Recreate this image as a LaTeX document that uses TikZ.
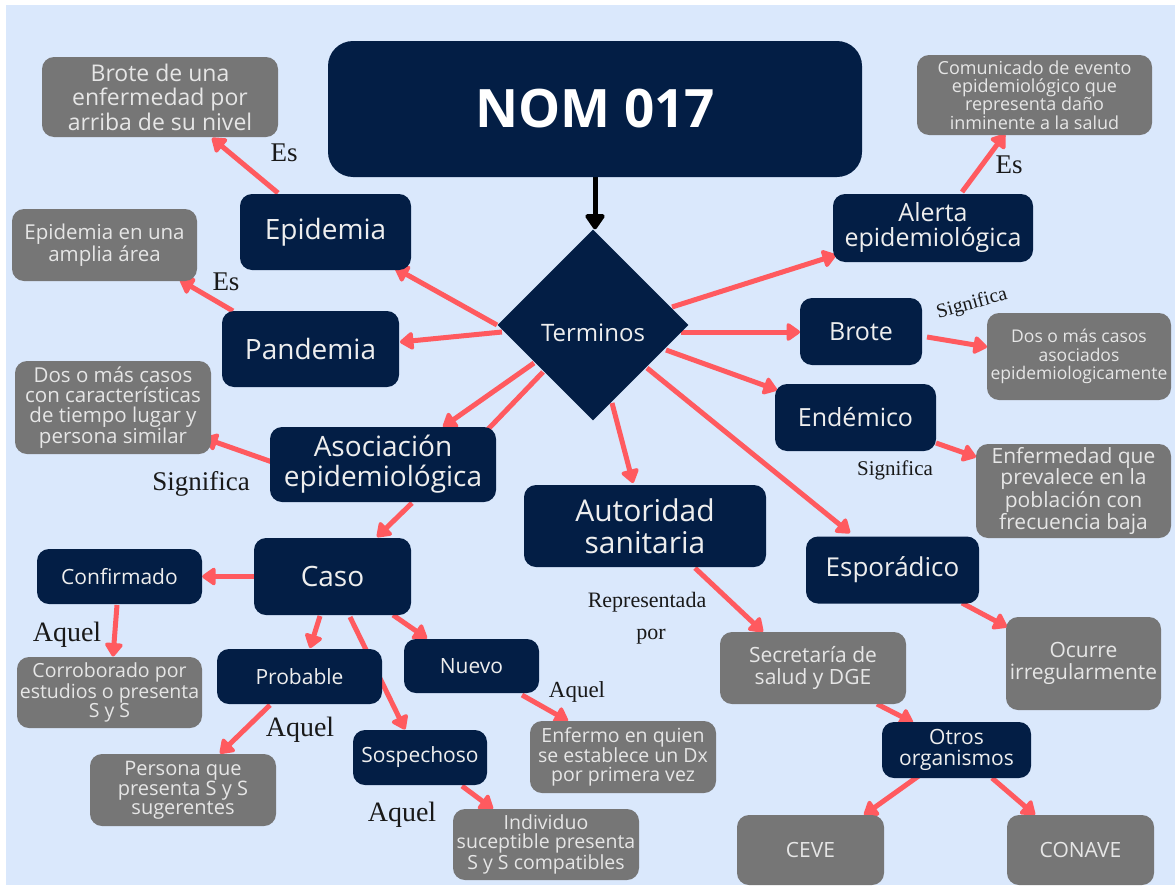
\documentclass[tikz,border=0pt]{standalone}
\usepackage{fontspec}
\newfontfamily\os{Open Sans}
\newfontfamily\lsf{Liberation Serif}
\usetikzlibrary{shapes.geometric,arrows.meta}
\definecolor{navy}{HTML}{031E45}
\definecolor{boxgray}{HTML}{767676}
\definecolor{bgblue}{HTML}{DAE8FC}
\definecolor{arr}{HTML}{FF5A5F}
\definecolor{wtext}{HTML}{EEEEEE}
\definecolor{gtext}{HTML}{E6E6E6}
\newcommand\osz[2]{\os\fontsize{#1}{#2}\selectfont}
\newcommand\lbz[1]{\lsf\fontsize{#1}{#1}\selectfont}
\pgfdeclarelayer{back}\pgfdeclarelayer{edges}\pgfsetlayers{back,edges,main}
\tikzset{
 nbox/.style={fill=navy, rounded corners=12pt, text=wtext, align=center, inner sep=0pt},
 gbox/.style={fill=boxgray, rounded corners=12pt, text=gtext, align=center, inner sep=0pt},
 sz/.style 2 args={minimum width=#1pt, minimum height=#2pt},
 arrowline/.style={draw=arr, line width=5pt, -{Triangle[length=15pt,width=20pt,round]}},
 plainline/.style={draw=arr, line width=5pt},
 lab/.style={text=black!90, inner sep=0pt},
}
\begin{document}
\begin{tikzpicture}[x=1pt,y=-1pt]
\useasboundingbox (0,0) rectangle (1175,886);
\begin{pgfonlayer}{back}
\fill[white] (0,0) rectangle (1175,886);
\fill[bgblue] (6,5) rectangle (1175,885);
\end{pgfonlayer}

% main nodes
\node[nbox,sz={534}{136},rounded corners=25pt,font=\os\bfseries\fontsize{53}{53}\selectfont,text=white] (nom) at (595,109) {NOM 017};
\node[diamond,fill=navy,minimum width=191pt,minimum height=191pt,inner sep=0pt,
  label={[text=wtext,font=\osz{24}{24},yshift=-8pt]center:Terminos}] (term) at (593,325) {};
\node[nbox,sz={171}{76},font=\osz{28}{28}] (epi) at (325.5,232) {Epidemia};
\node[gbox,sz={236}{80},font=\osz{23}{24.5}] (epidef) at (160,97) {Brote de una\\enfermedad por\\arriba de su nivel};
\node[nbox,sz={177}{76},font=\osz{28}{28}] (pand) at (310.5,349) {Pandemia};
\node[gbox,sz={185}{72},font=\osz{20.5}{20}] (pandef) at (104.5,245) {Epidemia en una\\amplia área};
\node[nbox,sz={226}{75},font=\osz{28}{30}] (asoc) at (383,464.5) {Asociación\\epidemiológica};
\node[gbox,sz={196}{93},font=\osz{20.5}{20}] (asocdef) at (113,407.5) {Dos o más casos\\con características\\de tiempo lugar y\\persona similar};
\node[nbox,sz={157}{77},font=\osz{28}{28}] (caso) at (332.5,576.5) {Caso};
\node[nbox,sz={165}{55},font=\osz{21}{21}] (conf) at (119.5,576.5) {Confirmado};
\node[gbox,sz={185}{71},font=\osz{19.5}{19}] (corr) at (109.5,692.5) {Corroborado por\\estudios o presenta\\S y S};
\node[nbox,sz={165}{55},font=\osz{21}{21}] (prob) at (299.5,676.5) {Probable};
\node[nbox,sz={135}{54},font=\osz{21}{21}] (nuevo) at (471.5,666) {Nuevo};
\node[nbox,sz={134}{55},font=\osz{21}{21}] (sosp) at (420,757.5) {Sospechoso};
\node[gbox,sz={186}{72},font=\osz{20}{19}] (persona) at (183,790) {Persona que\\presenta S y S\\sugerentes};
\node[gbox,sz={186}{72},font=\osz{19.5}{19}] (enfermo) at (623,757) {Enfermo en quien\\se establece un Dx\\por primera vez};
\node[gbox,sz={186}{71},font=\osz{19.5}{19}] (indiv) at (546,844.5) {Individuo\\suceptible presenta\\S y S compatibles};
\node[nbox,sz={242}{82},font=\osz{30}{32}] (autor) at (645,526) {Autoridad\\sanitaria};
\node[gbox,sz={186}{72},font=\osz{21}{22}] (secre) at (813,668) {Secretaría de\\salud y DGE};
\node[nbox,sz={149}{56},font=\osz{21}{21}] (otros) at (956.5,750) {Otros\\organismos};
\node[gbox,sz={147}{70},font=\osz{21}{21}] (ceve) at (810.5,850) {CEVE};
\node[gbox,sz={147}{70},font=\osz{21}{21}] (conave) at (1080.5,850) {CONAVE};
\node[nbox,sz={173}{67},font=\osz{26}{26}] (espor) at (892.5,570) {Esporádico};
\node[gbox,sz={155}{93},font=\osz{21}{22}] (ocurre) at (1083.5,663.5) {Ocurre\\irregularmente};
\node[nbox,sz={161}{67},font=\osz{25}{25}] (endem) at (855.5,417.5) {Endémico};
\node[gbox,sz={195}{94},font=\osz{21}{21}] (enfdef) at (1073.5,491) {Enfermedad que\\prevalece en la\\población con\\frecuencia baja};
\node[nbox,sz={122}{67},font=\osz{25}{25}] (brote) at (861,331.5) {Brote};
\node[gbox,sz={184}{87},font=\osz{17.5}{18.3}] (brotedef) at (1079,356.5) {Dos o más casos\\asociados\\epidemiologicamente};
\node[nbox,sz={200}{68},font=\osz{25}{25}] (alerta) at (933,228) {Alerta\\epidemiológica};
\node[gbox,sz={235}{80},font=\osz{18}{18.3}] (alertdef) at (1034.5,95) {Comunicado de evento\\epidemiológico que\\representa daño\\inminente a la salud};

% connector labels
\node[lab,font=\lbz{27}] (es1) at (284,153) {Es};
\node[lab,font=\lbz{27}] (es2) at (226,282) {Es};
\node[lab,font=\lbz{27}] (es3) at (1009,165) {Es};
\node[lab,font=\lbz{27}] (sig1) at (201,484) {Significa};
\node[lab,font=\lbz{20},rotate=15] (sig2) at (972,304) {Significa};
\node[lab,font=\lbz{21}] (sig3) at (895,470) {Significa};
\node[lab,font=\lbz{28}] (aq1) at (67,635) {Aquel};
\node[lab,font=\lbz{28}] (aq2) at (300,730) {Aquel};
\node[lab,font=\lbz{28}] (aq3) at (402,815) {Aquel};
\node[lab,font=\lbz{23}] (aq4) at (577,692) {Aquel};
\node[lab,font=\lbz{22}] (rep) at (647,602) {Representada};
\node[lab,font=\lbz{22}] (por) at (651,637) {por};

\begin{pgfonlayer}{edges}
\draw[line width=5pt,-{Triangle[length=17pt,width=22pt,round]}] (nom.south) -- (nom.south |- term.north);
\draw[arrowline] ([shift={(-96,0)}]term.center) -- ([shift={(69.5,36)}]epi.center);
\draw[arrowline] ([shift={(-91,7)}]term.center) -- ([shift={(89.5,-7)}]pand.center);
\draw[arrowline] ([shift={(-59,38)}]term.center) -- ([shift={(60,-37.5)}]asoc.center);
\draw[plainline] ([shift={(-50,47)}]term.center) -- ([shift={(100,-30)}]asoc.center);
\draw[arrowline] ([shift={(19,78)}]term.center) -- ([shift={(-12,-43)}]autor.center);
\draw[arrowline] ([shift={(54,43)}]term.center) -- ([shift={(-42.5,-37)}]espor.center);
\draw[arrowline] ([shift={(73,25)}]term.center) -- ([shift={(-78.5,-27.5)}]endem.center);
\draw[arrowline] ([shift={(88,7)}]term.center) -- ([shift={(-61,0.5)}]brote.center);
\draw[arrowline] ([shift={(79,-18)}]term.center) -- ([shift={(-97,27)}]alerta.center);
\draw[arrowline] ([shift={(-47.5,-39)}]epi.center) -- ([shift={(52,41)}]epidef.center);
\draw[arrowline] ([shift={(-77.5,-38)}]pand.center) -- ([shift={(75.5,35)}]pandef.center);
\draw[arrowline] ([shift={(-108,-1.5)}]asoc.center) -- ([shift={(91,30.5)}]asocdef.center);
\draw[arrowline] ([shift={(29,38.5)}]asoc.center) -- ([shift={(44.5,-39.5)}]caso.center);
\draw[arrowline] (caso.west) -- (conf.east);
\draw[arrowline] ([shift={(-2.5,28.5)}]conf.center) -- ([shift={(3.5,-36)}]corr.center);
\draw[arrowline] ([shift={(-12.5,39.5)}]caso.center) -- ([shift={(10.5,-28.5)}]prob.center);
\draw[arrowline] ([shift={(60.5,38.5)}]caso.center) -- ([shift={(-44.5,-27.5)}]nuevo.center);
\draw[arrowline] ([shift={(17.5,40.5)}]caso.center) -- ([shift={(-15,-28)}]sosp.center);
\draw[arrowline] ([shift={(-29.5,28.5)}]prob.center) -- ([shift={(37,-36.5)}]persona.center);
\draw[arrowline] ([shift={(42,28.5)}]sosp.center) -- ([shift={(-53,-35.5)}]indiv.center);
\draw[arrowline] ([shift={(50.5,29)}]nuevo.center) -- ([shift={(-55,-36)}]enfermo.center);
\draw[arrowline] ([shift={(50,42)}]autor.center) -- ([shift={(-50,-36)}]secre.center);
\draw[arrowline] ([shift={(64,36)}]secre.center) -- ([shift={(-43.5,-27.5)}]otros.center);
\draw[arrowline] ([shift={(-36.5,25)}]otros.center) -- ([shift={(53.5,-35)}]ceve.center);
\draw[arrowline] ([shift={(35.5,28)}]otros.center) -- ([shift={(-45.5,-35)}]conave.center);
\draw[arrowline] ([shift={(69.5,33)}]espor.center) -- ([shift={(-76.5,-36.5)}]ocurre.center);
\draw[arrowline] ([shift={(80.5,25.5)}]endem.center) -- ([shift={(-97.5,-34)}]enfdef.center);
\draw[arrowline] ([shift={(66,5.5)}]brote.center) -- ([shift={(-92,-9.5)}]brotedef.center);
\draw[arrowline] ([shift={(29,-36)}]alerta.center) -- ([shift={(-29.5,39)}]alertdef.center);
\end{pgfonlayer}
\end{tikzpicture}
\end{document}
